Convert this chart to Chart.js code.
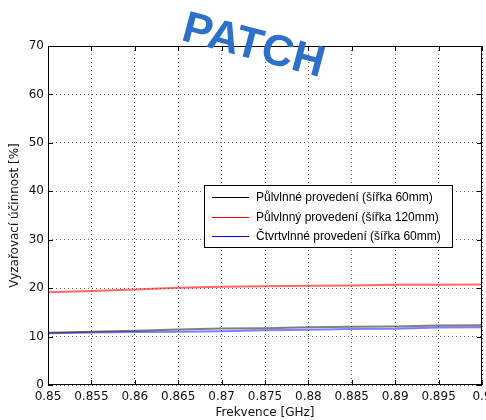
<!DOCTYPE html>
<html>
<head>
<meta charset="utf-8">
<script src="https://cdn.jsdelivr.net/npm/chart.js@4.4.1/dist/chart.umd.min.js"></script>
<style>
  body { margin: 0; background: #fff; }
  canvas { display: block; }
</style>
</head>
<body>
<canvas id="myChart" width="486" height="420"></canvas>
<script>
// frequency points [GHz]
const freq = [0.85, 0.855, 0.86, 0.865, 0.87, 0.875, 0.88, 0.885, 0.89, 0.895, 0.9];
// radiation efficiency [%]
const halfWave60 = [10.8, 11.0, 11.2, 11.45, 11.65, 11.7, 11.9, 12.05, 12.1, 12.3, 12.35];
const halfWave120 = [19.15, 19.4, 19.7, 20.1, 20.3, 20.4, 20.5, 20.55, 20.7, 20.7, 20.75];
const quarterWave60 = [10.7, 10.85, 10.95, 11.0, 11.1, 11.3, 11.4, 11.55, 11.6, 11.85, 11.9];

const seriesLabels = [
    'Půlvlnné provedení (šířka 60mm)',
    'Půlvlnný provedení (šířka 120mm)',
    'Čtvrtvlnné provedení (šířka 60mm)'
];
const legendColors = ['#000000', '#ff0000', '#0000ff'];

const xTicks = [0.85, 0.855, 0.86, 0.865, 0.87, 0.875, 0.88, 0.885, 0.89, 0.895, 0.9];
const yTicks = [0, 10, 20, 30, 40, 50, 60, 70];

const FONT = 'Liberation Sans, Arial, sans-serif';
const AXFONT = 'DejaVu Sans, sans-serif';

function points(ys) {
    return freq.map((f, i) => ({ x: f, y: ys[i] }));
}

// box around the axes, inward ticks, legend and the PATCH caption
const decorations = {
    id: 'decorations',
    afterDraw(chart) {
        const { ctx, chartArea: a, scales: { x, y } } = chart;
        ctx.save();
        ctx.strokeStyle = '#000';
        ctx.lineWidth = 1;
        ctx.beginPath();
        xTicks.forEach(v => {
            const px = Math.round(x.getPixelForValue(v)) + 0.5;
            ctx.moveTo(px, a.bottom); ctx.lineTo(px, a.bottom - 5);
            ctx.moveTo(px, a.top); ctx.lineTo(px, a.top + 5);
        });
        yTicks.forEach(v => {
            const py = Math.round(y.getPixelForValue(v)) + 0.5;
            ctx.moveTo(a.left, py); ctx.lineTo(a.left + 5, py);
            ctx.moveTo(a.right, py); ctx.lineTo(a.right - 5, py);
        });
        ctx.stroke();
        ctx.strokeRect(a.left + 0.5, a.top + 0.5, a.right - a.left - 1, a.bottom - a.top - 1);

        // legend
        const lx = 204, ly = 185, lw = 248, lh = 62;
        ctx.fillStyle = '#fff';
        ctx.fillRect(lx, ly, lw, lh);
        ctx.strokeStyle = '#000';
        ctx.strokeRect(lx + 0.5, ly + 0.5, lw, lh);
        ctx.font = '12px ' + FONT;
        ctx.textBaseline = 'middle';
        seriesLabels.forEach((t, i) => {
            const ry = Math.round(ly + 12 + i * 19.5);
            ctx.fillStyle = legendColors[i];
            ctx.fillRect(lx + 8, ry, 37, 1);
            ctx.fillStyle = '#000';
            ctx.fillText(t, lx + 52, ry + 1);
        });

        // rotated caption
        ctx.translate(254, 44);
        ctx.rotate(15 * Math.PI / 180);
        ctx.fillStyle = '#2e6fc9';
        ctx.font = 'bold 44px ' + FONT;
        ctx.textAlign = 'center';
        ctx.textBaseline = 'alphabetic';
        ctx.fillText('PATCH', 0, 15);
        ctx.restore();
    }
};

const ctx = document.getElementById('myChart').getContext('2d');
const myChart = new Chart(ctx, {
    type: 'line',
    data: {
        datasets: [{
            label: seriesLabels[0],
            data: points(halfWave60),
            borderColor: 'rgba(0, 0, 0, 0.5)',
            borderWidth: 2
        }, {
            label: seriesLabels[1],
            data: points(halfWave120),
            borderColor: 'rgba(255, 0, 0, 0.6)',
            borderWidth: 2
        }, {
            label: seriesLabels[2],
            data: points(quarterWave60),
            borderColor: 'rgba(0, 0, 255, 0.5)',
            borderWidth: 2
        }]
    },
    options: {
        responsive: false,
        animation: false,
        elements: { point: { radius: 0 }, line: { tension: 0 } },
        layout: { padding: { top: 46, right: 4, left: 0, bottom: 0 } },
        plugins: {
            legend: { display: false },
            tooltip: { enabled: false }
        },
        scales: {
            x: {
                type: 'linear',
                min: 0.85,
                max: 0.9,
                afterBuildTicks: s => { s.ticks = xTicks.map(v => ({ value: v })); },
                afterFit: s => { s.height = 35; s.paddingLeft = 0; s.paddingRight = 0; },
                grid: { color: '#666', drawTicks: false },
                border: { display: false, dash: [1, 3] },
                ticks: {
                    padding: 5,
                    maxRotation: 0,
                    autoSkip: false,
                    color: '#111',
                    font: { family: AXFONT, size: 12 },
                    callback: v => String(parseFloat(v.toFixed(3)))
                },
                title: {
                    display: true,
                    text: 'Frekvence [GHz]',
                    color: '#111',
                    font: { family: AXFONT, size: 12 },
                    padding: 0
                }
            },
            y: {
                min: 0,
                max: 70,
                afterBuildTicks: s => { s.ticks = yTicks.map(v => ({ value: v })); },
                afterFit: s => { s.width = 48; },
                grid: { color: '#666', drawTicks: false },
                border: { display: false, dash: [1, 3] },
                ticks: {
                    padding: 4,
                    color: '#111',
                    font: { family: AXFONT, size: 12 }
                },
                title: {
                    display: true,
                    text: 'Vyzařovací účinnost [%]',
                    color: '#111',
                    font: { family: AXFONT, size: 12 },
                    padding: { top: 8, bottom: 0 }
                }
            }
        }
    },
    plugins: [decorations]
});
</script>
</body>
</html>
